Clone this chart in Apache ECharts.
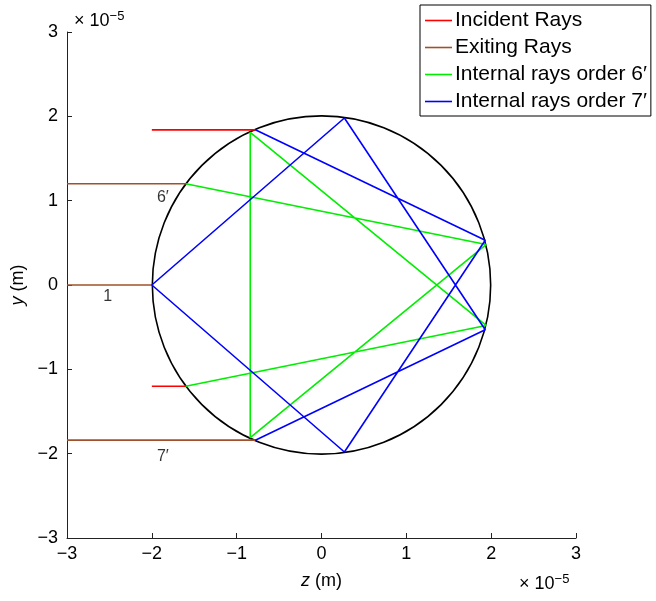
<!DOCTYPE html>
<html>
<head>
<meta charset="utf-8">
<script src="https://cdn.jsdelivr.net/npm/echarts@6/dist/echarts.min.js"></script>
<style>html,body{margin:0;padding:0;background:#fff;}#c{width:656px;height:601px;}</style>
</head>
<body>
<div id="c"></div>
<script>
// values in units of 1e-5 m
var axisTicks = [-3, -2, -1, 0, 1, 2, 3];
var circleData = [[0, 0, 2]]; // center z, center y, radius
var incident1 = [[-2, 1.84], [-0.78, 1.84]];
var incident2 = [[-2, -1.2], [-1.6, -1.2]];
var exiting1 = [[-3, 1.2], [-1.6, 1.2]];
var exiting2 = [[-3, 0], [-2, 0]];
var exiting3 = [[-3, -1.84], [-0.78, -1.84]];
var order6 = [[-1.6, -1.2], [1.94, -0.48], [-0.84, 1.81], [-0.84, -1.81], [1.94, 0.48], [-1.6, 1.2]];
var order7 = [[-0.78, 1.84], [1.93, 0.53], [0.27, -1.98], [-2, 0], [0.27, 1.98], [1.93, -0.53], [-0.78, -1.84]];
var annotations = [[-1.87, 1.04, '6′'], [-2.52, -0.14, '1'], [-1.87, -2.04, '7′']];

var FONT = 'Liberation Sans, Arial, sans-serif';
var RED = '#ff0000', BROWN = '#a0502a', GREEN = '#00ee00', BLUE = '#0000ff';

function seg(name, data, color) {
  return {
    type: 'line', name: name, data: data, symbol: 'none', animation: false,
    lineStyle: { color: color, width: 1.6 }, itemStyle: { color: color }, z: 3
  };
}

var chart = echarts.init(document.getElementById('c'));
var axisCommon = {
  type: 'value', min: axisTicks[0], max: axisTicks[axisTicks.length - 1], interval: 1,
  axisLine: { show: true, onZero: false, lineStyle: { color: '#222', width: 1 } },
  axisTick: { show: true, inside: true, length: 5, lineStyle: { color: '#222' } },
  splitLine: { show: false },
  axisLabel: { color: '#000', fontSize: 18, fontFamily: FONT,
    formatter: function (v) { return String(v).replace('-', '\u2212'); } }
};
chart.setOption({
  animation: false,
  grid: { left: 67, right: 80, top: 32, bottom: 63 },
  xAxis: Object.assign({}, axisCommon, {
    name: '{i|z} (m)', nameLocation: 'middle', nameGap: 34,
    nameTextStyle: { color: '#000', fontSize: 18, fontFamily: FONT,
      rich: { i: { fontStyle: 'italic', fontSize: 18, fontFamily: FONT, color: '#000' } } },
    axisLabel: Object.assign({}, axisCommon.axisLabel, { margin: 7 })
  }),
  yAxis: Object.assign({}, axisCommon, {
    name: '{i|y} (m)', nameLocation: 'middle', nameGap: 37, nameRotate: 90,
    nameTextStyle: { color: '#000', fontSize: 18, fontFamily: FONT,
      rich: { i: { fontStyle: 'italic', fontSize: 18, fontFamily: FONT, color: '#000' } } },
    axisLabel: Object.assign({}, axisCommon.axisLabel, { margin: 9 })
  }),
  legend: {
    left: 420, top: 5, orient: 'vertical',
    data: ['Incident Rays', 'Exiting Rays', 'Internal rays order 6′', 'Internal rays order 7′'],
    icon: 'rect',
    backgroundColor: '#fff', borderColor: '#000', borderWidth: 1,
    padding: [5, 4, 4, 5], itemWidth: 27, itemHeight: 1.6, itemGap: 6,
    textStyle: { color: '#000', fontSize: 21, fontFamily: FONT, padding: [0, 0, 0, -2], lineHeight: 21 },
    selectedMode: false
  },
  graphic: [
    { type: 'text', left: 74, top: 10, style: { text: '× 10{s|−5}', fill: '#000', font: '18px ' + FONT,
      rich: { s: { fontSize: 13, fontFamily: FONT, verticalAlign: 'top', padding: [0, 0, 10, 0] } } } },
    { type: 'text', left: 519, top: 573, style: { text: '× 10{s|−5}', fill: '#000', font: '18px ' + FONT,
      rich: { s: { fontSize: 13, fontFamily: FONT, verticalAlign: 'top', padding: [0, 0, 10, 0] } } } }
  ],
  series: [
    {
      type: 'custom', name: 'circle', data: circleData, z: 2, silent: true,
      renderItem: function (params, api) {
        var c = api.coord([api.value(0), api.value(1)]);
        var r = api.size([api.value(2), api.value(2)]);
        return { type: 'circle', shape: { cx: c[0], cy: c[1], r: (r[0] + r[1]) / 2 },
          style: { fill: 'none', stroke: '#000', lineWidth: 1.6 } };
      }
    },
    seg('Incident Rays', incident1, RED),
    seg('Incident Rays', incident2, RED),
    seg('Exiting Rays', exiting1, BROWN),
    seg('Exiting Rays', exiting2, BROWN),
    seg('Exiting Rays', exiting3, BROWN),
    seg('Internal rays order 6′', order6, GREEN),
    seg('Internal rays order 7′', order7, BLUE),
    {
      type: 'scatter', name: 'labels', data: annotations, symbolSize: 0, silent: true,
      label: { show: true, position: 'inside', color: '#000', fontSize: 16, fontFamily: FONT,
        formatter: function (p) { return p.data[2]; } }
    }
  ]
});
</script>
</body>
</html>
